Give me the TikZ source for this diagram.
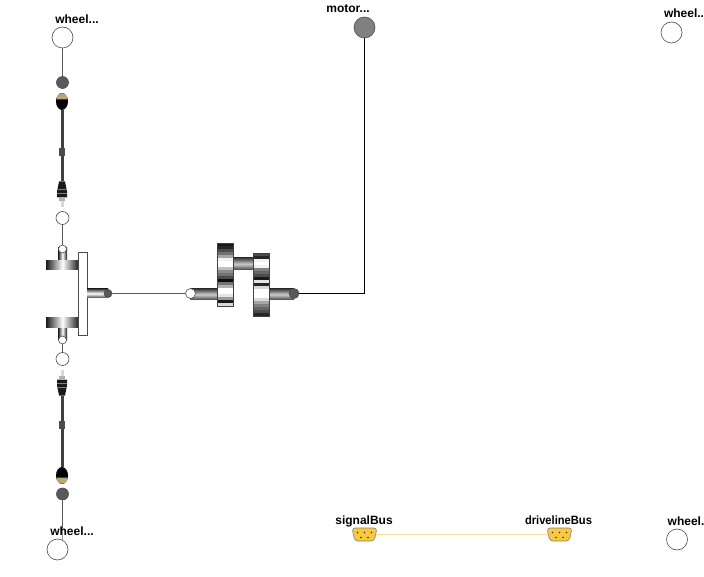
\documentclass[tikz,border=0pt]{standalone}
\usepackage{fontspec}
\setmainfont{Liberation Sans}
\usetikzlibrary{shapes.geometric}

\definecolor{busyellow}{RGB}{250,200,60}
\definecolor{busline}{RGB}{255,222,160}
\definecolor{headtan}{RGB}{190,165,120}

\tikzset{
  wire/.style={draw=black!65,line width=0.6pt},
  port/.style={circle,draw=black!70,line width=0.6pt,inner sep=0pt,fill=white},
  darkport/.style={port,fill=black!65},
  label/.style={inner sep=0pt,font=\bfseries\fontsize{12}{12}\selectfont},
  hshaft/.style={rectangle,inner sep=0pt,top color=black!75,bottom color=black!75,middle color=black!20},
  vshaft/.style={rectangle,inner sep=0pt,left color=black!90,right color=black!90,middle color=white},
  gearbox/.style={rectangle,draw=black!75,line width=0.5pt,inner sep=0pt,minimum width=16pt,minimum height=63pt},
  busport/.style={trapezium,trapezium angle=98,trapezium stretches=true,draw=black!50,line width=0.6pt,fill=busyellow,
    inner sep=1pt,minimum height=13pt,minimum width=25pt,rounded corners=3pt}
}

\begin{document}
\begin{tikzpicture}[x=1pt,y=-1pt]
  \useasboundingbox (0,0) rectangle (704,577);

  \node[port,minimum size=21pt] (wheelFL) at (62.5,37.5) {};
  \node[port,minimum size=21pt] (wheelFR) at (671.5,32.5) {};
  \node[port,minimum size=21pt] (wheelRL) at (57.5,549.5) {};
  \node[port,minimum size=21pt] (wheelRR) at (677,539.5) {};
  \node[port,minimum size=21pt,fill=black!50] (motor) at (364.5,27.5) {};

  \node[darkport,minimum size=12pt] (axleTopOut) at (62.5,82.5) {};
  \node[port,minimum size=13pt] (axleTopIn) at (62.5,218) {};
  \node[port,minimum size=13pt] (axleBotIn) at (62.5,359) {};
  \node[darkport,minimum size=12pt] (axleBotOut) at (62.5,494) {};

  \foreach \s in {1,-1} {
    \begin{scope}[shift={(0,288.5)},yscale=\s]
      \fill[black!75] (60.5,-178) rectangle (63.5,-107);
      \fill[black!70] (58.5,-140) rectangle (65,-132);
      \fill[black] (62,-187) ellipse (6 and 8.5);
      \fill[headtan] (56.5,-189) .. controls (57,-197.5) and (67,-197.5) .. (67.5,-189) -- cycle;
      \fill[black!90] (59,-107) -- (65,-107) -- (67,-97) -- (67,-91) -- (57,-91) -- (57,-97) -- cycle;
      \draw[black!50,line width=0.4pt] (57.5,-99) -- (66.5,-99) (57,-95) -- (67,-95);
      \fill[black!30] (59,-91) rectangle (65,-87);
      \fill[black!15] (61,-87) rectangle (63.5,-81);
    \end{scope}
  }

  \node[vshaft,minimum width=9pt,minimum height=14pt] (stubTop) at (62.5,255) {};
  \node[vshaft,minimum width=9pt,minimum height=14pt] (stubBot) at (62.5,333) {};
  \node[vshaft,minimum width=33pt,minimum height=9.5pt] (discTop) at (62.5,265) {};
  \node[vshaft,minimum width=33pt,minimum height=9.5pt] (discBot) at (62.5,322.5) {};
  \node[port,minimum size=8pt] (sunTop) at (62.5,249) {};
  \node[port,minimum size=8pt] (sunBot) at (62.5,340) {};
  \node[rectangle,draw=black!70,line width=0.6pt,fill=white,inner sep=0pt,minimum width=9pt,minimum height=83pt] (carrier) at (83,293.5) {};
  \node[hshaft,middle color=white,minimum width=21pt,minimum height=9pt] (diffShaft) at (97.5,293.5) {};
  \node[darkport,minimum size=8pt] (diffPort) at (108,293.5) {};

  \node[hshaft,minimum width=27pt,minimum height=11pt] (inShaft) at (203.5,294.5) {};
  \node[hshaft,minimum width=20pt,minimum height=12pt] (midShaft) at (243,264) {};
  \node[hshaft,minimum width=25pt,minimum height=11pt] (outShaft) at (281.5,294.5) {};

  \foreach \g [count=\i from 0] in {90,85,70,55,35,5,0,0,25,45,55,70,95,55,30,0,0,10,40,90,15}
    \fill[black!\g] (217,243+3*\i) rectangle (233,246.2+3*\i);
  \foreach \g [count=\i from 0] in {70,85,5,0,5,50,60,70,90,10,85,15,0,0,0,15,35,50,60,70,85}
    \fill[black!\g] (253,253+3*\i) rectangle (269,256.2+3*\i);
  \node[gearbox] (gearLeft) at (225,274.5) {};
  \node[gearbox] (gearRight) at (261,284.5) {};

  \node[port,minimum size=10pt] (inPort) at (190.5,293.5) {};
  \node[darkport,minimum size=10pt] (outPort) at (294,293.5) {};
  \coordinate (motorCorner) at (364.5,293.5);

  \draw[wire] (wheelFL) -- (axleTopOut);
  \draw[wire] (axleTopIn) -- (sunTop);
  \draw[wire] (sunBot) -- (axleBotIn);
  \draw[wire] (axleBotOut.south) -- (wheelRL.62);
  \draw[wire] (diffPort) -- (inPort);
  \draw[draw=black,line width=0.5pt] (outPort) -- (motorCorner) -- (motor);

  \node[busport] (signalBusPort) at (364.5,534.5) {};
  \node[busport] (drivelineBusPort) at (559.5,534.5) {};
  \draw[busline,line width=1pt] (signalBusPort) -- (drivelineBusPort);
  \foreach \n in {signalBusPort,drivelineBusPort} {
    \foreach \dx/\dy in {-7/-2,0/-2,7/-2,-3.5/3,3.5/3}
      \fill[black!80] ([shift={(\dx,\dy)}]\n.center) circle (0.8);
  }

  \node[label] (wheelFLText) at (77,19) {wheel...};
  \node[label] (motorText) at (348,9) {motor...};
  \node[label] (wheelFRText) at (684,13.5) {wheel..};
  \node[label] (wheelRLText) at (72,531) {wheel...};
  \node[label] (wheelRRText) at (686,521) {wheel.};
  \node[label] (signalBusText) at (364,521) {signalBus};
  \node[label,xscale=0.93] (drivelineBusText) at (558.5,520) {drivelineBus};
\end{tikzpicture}
\end{document}
